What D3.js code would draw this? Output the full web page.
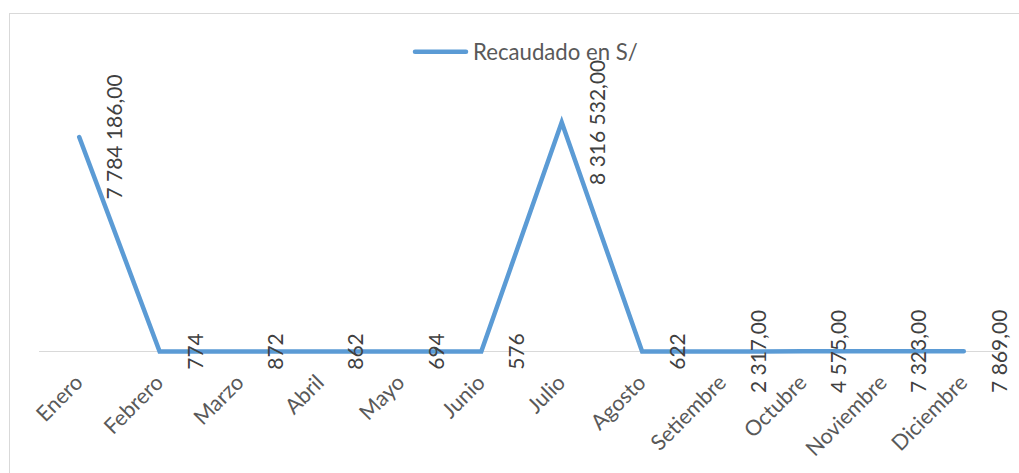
<!DOCTYPE html>
<html>
<head>
<meta charset="utf-8">
<script src="https://cdn.jsdelivr.net/npm/d3@7"></script>
<style>
  html, body { margin: 0; padding: 0; background: #ffffff; }
  svg { display: block; }
  text { font-family: Lato, "Open Sans", sans-serif; }
</style>
</head>
<body>
<svg id="chart" width="1019" height="473"></svg>
<script>
const months = ["Enero","Febrero","Marzo","Abril","Mayo","Junio","Julio","Agosto","Setiembre","Octubre","Noviembre","Diciembre"];
const recaudado = [7784186, 774, 872, 862, 694, 576, 8316532, 622, 2317, 4575, 7323, 7869];
const seriesName = "Recaudado en S/";

const W = 1019, H = 473;
const svg = d3.select("#chart");

// chart border
svg.append("rect")
  .attr("x", 9.5).attr("y", 13.5)
  .attr("width", W + 20).attr("height", H + 20)
  .attr("fill", "none").attr("stroke", "#d9d9d9").attr("stroke-width", 1);

const x = d3.scalePoint().domain(months).range([39, 1004]).padding(0.5);
const y = d3.scaleLinear().domain([0, 9000000]).range([351.5, 103.5]);

// category axis
const xAxis = d3.axisBottom(x).tickSize(0).tickFormat("");
const gx = svg.append("g").attr("transform", `translate(0,${y(0)})`).call(xAxis);
gx.select(".domain").attr("stroke", "#d9d9d9").attr("stroke-width", 1)
  .attr("d", "M39,0H1004");

svg.append("g").selectAll("text").data(months).join("text")
  .attr("transform", d => `translate(${x(d) + 5},384) rotate(-45)`)
  .attr("text-anchor", "end")
  .attr("fill", "#595959")
  .attr("font-size", 21.5)
  .text(d => d);

// line
const data = months.map((m, i) => ({ m, v: recaudado[i] }));
const line = d3.line().x(d => x(d.m)).y(d => y(d.v));
svg.append("path").datum(data)
  .attr("d", line)
  .attr("fill", "none")
  .attr("stroke", "#5b9bd5")
  .attr("stroke-width", 4.5)
  .attr("stroke-linejoin", "miter")
  .attr("stroke-linecap", "round");

// data labels
const loc = d3.formatLocale({ decimal: ",", thousands: " ", grouping: [3], currency: ["", ""] });
const fmtBig = loc.format(",.2f");
const fmt = v => v >= 1000 ? fmtBig(v) : String(v);
svg.append("g").selectAll("text").data(data).join("text")
  .attr("transform", d => `translate(${x(d.m) + 43},${y(d.v)}) rotate(-90)`)
  .attr("text-anchor", "middle")
  .attr("fill", "#404040")
  .attr("font-size", 21)
  .text(d => fmt(d.v));

// legend
const lg = svg.append("g");
lg.append("line").attr("x1", 415).attr("x2", 466).attr("y1", 51.7).attr("y2", 51.7)
  .attr("stroke", "#5b9bd5").attr("stroke-width", 4.5).attr("stroke-linecap", "round");
lg.append("text").attr("x", 473).attr("y", 59.5)
  .attr("fill", "#595959").attr("font-size", 22.2)
  .text(seriesName);
</script>
</body>
</html>
